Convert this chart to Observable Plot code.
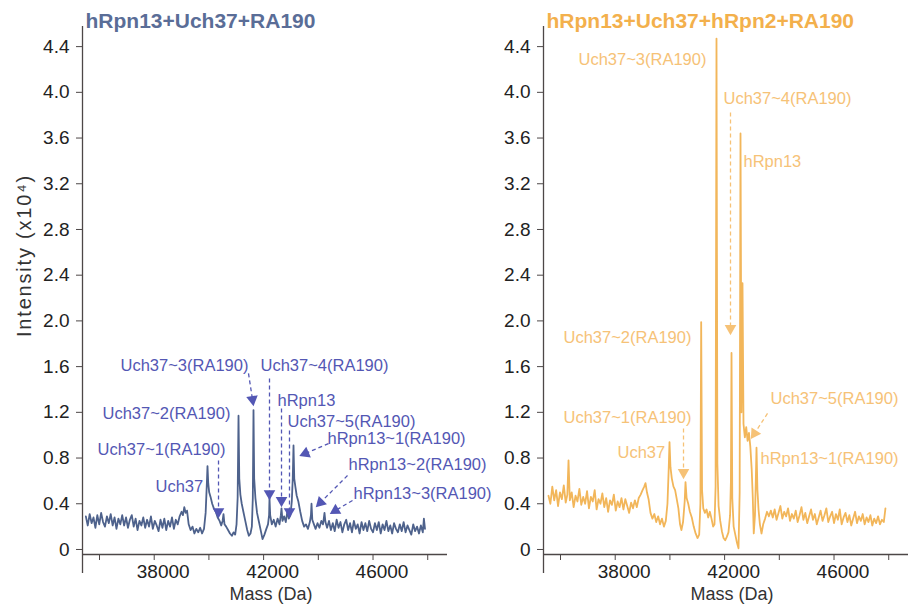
<!DOCTYPE html>
<html>
<head>
<meta charset="utf-8">
<script src="https://cdn.jsdelivr.net/npm/d3@7"></script>
<script src="https://cdn.jsdelivr.net/npm/@observablehq/plot@0.6"></script>
<style>
  html, body { margin: 0; padding: 0; background: #fff; }
  #wrap { position: relative; width: 909px; height: 611px; overflow: hidden; }
  #left, #right { position: absolute; top: 0; }
  #left { left: 0; z-index: 2; }
  #right { left: 461px; z-index: 1; }
</style>
</head>
<body>
<div id="wrap"><div id="left"></div><div id="right"></div></div>
<script>
// ---------- Data ----------
const titleLeft = "hRpn13+Uch37+RA190";
const titleRight = "hRpn13+Uch37+hRpn2+RA190";
const xLabel = "Mass (Da)";
const yLabel = "Intensity (x10\u2074)";

const yTicks = [0, 0.4, 0.8, 1.2, 1.6, 2.0, 2.4, 2.8, 3.2, 3.6, 4.0, 4.4];
const xTickMarks = [36000, 38000, 40000, 42000, 44000, 46000, 48000];
const xTickLabels = [38000, 42000, 46000];

// Left spectrum: hRpn13+Uch37+RA190
const massL = [
  35500,35570,35640,35710,35780,35850,35920,35990,36060,36130,
  36200,36270,36340,36410,36480,36550,36620,36690,36760,36830,
  36900,36970,37040,37110,37180,37250,37320,37390,37460,37530,
  37600,37670,37740,37810,37880,37950,38020,38090,38160,38230,
  38300,38370,38440,38510,38580,38650,38720,38790,38860,38930,
  39000,39050,39100,39150,39200,39260,39330,39400,39470,39540,
  39610,39680,39750,39820,39880,39920,39948,39975,40010,40060,
  40120,40180,40250,40320,40390,40450,40500,40533,40570,40630,
  40700,40770,40840,40900,40960,41010,41050,41082,41110,41150,
  41200,41260,41330,41400,41460,41520,41570,41605,41630,41655,
  41700,41760,41830,41900,41960,42030,42100,42160,42200,42215,
  42240,42300,42370,42440,42510,42580,42630,42654,42690,42750,
  42810,42873,42920,42980,43030,43065,43093,43120,43160,43210,
  43270,43340,43410,43480,43550,43620,43690,43730,43751,43780,
  43840,43900,43970,44040,44110,44170,44200,44226,44260,44320,
  44390,44460,44530,44600,44670,44740,44810,44880,44950,45020,
  45090,45160,45230,45300,45370,45440,45510,45580,45650,45720,
  45790,45860,45930,46000,46070,46140,46210,46280,46350,46420,
  46490,46560,46630,46700,46770,46840,46910,46980,47050,47120,
  47190,47260,47330,47400,47470,47540,47610,47680,47750,47820,
  47860,47900
];
const intL = [
  0.29,0.21,0.31,0.23,0.28,0.19,0.30,0.22,0.32,0.24,
  0.20,0.29,0.23,0.31,0.21,0.28,0.18,0.27,0.22,0.30,
  0.21,0.28,0.19,0.26,0.30,0.20,0.27,0.17,0.25,0.21,
  0.28,0.19,0.26,0.20,0.29,0.18,0.25,0.21,0.16,0.26,
  0.19,0.27,0.17,0.25,0.20,0.28,0.18,0.26,0.22,0.29,
  0.33,0.30,0.37,0.32,0.34,0.22,0.17,0.20,0.14,0.18,
  0.15,0.19,0.14,0.18,0.32,0.55,0.73,0.58,0.50,0.46,
  0.40,0.36,0.33,0.28,0.25,0.21,0.25,0.31,0.22,0.20,
  0.17,0.14,0.12,0.15,0.13,0.22,0.45,1.17,0.62,0.48,
  0.40,0.33,0.25,0.17,0.12,0.14,0.20,0.45,1.22,0.62,
  0.45,0.32,0.24,0.16,0.09,0.13,0.18,0.22,0.30,0.45,
  0.30,0.22,0.26,0.20,0.27,0.22,0.30,0.36,0.25,0.29,
  0.24,0.34,0.27,0.30,0.42,0.62,0.91,0.62,0.55,0.47,
  0.42,0.33,0.25,0.20,0.22,0.18,0.24,0.30,0.40,0.26,
  0.22,0.18,0.23,0.19,0.25,0.22,0.27,0.32,0.24,0.19,
  0.25,0.17,0.23,0.16,0.26,0.19,0.24,0.15,0.22,0.26,
  0.17,0.23,0.15,0.25,0.18,0.22,0.14,0.24,0.17,0.23,
  0.16,0.25,0.18,0.15,0.23,0.17,0.24,0.14,0.22,0.17,
  0.25,0.16,0.21,0.14,0.23,0.18,0.15,0.22,0.16,0.24,
  0.15,0.21,0.17,0.13,0.22,0.16,0.20,0.14,0.21,0.15,
  0.27,0.18
];

// Right spectrum: hRpn13+Uch37+hRpn2+RA190
const massR = [
  35560,35630,35700,35770,35840,35910,35980,36050,36120,36190,
  36250,36293,36340,36410,36480,36550,36620,36690,36760,36830,
  36900,36970,37040,37110,37180,37250,37320,37390,37460,37530,
  37600,37670,37740,37810,37880,37950,38020,38090,38160,38230,
  38300,38370,38440,38510,38580,38650,38720,38790,38860,38930,
  39000,39060,39108,39160,39220,39290,39360,39430,39500,39570,
  39640,39710,39780,39850,39910,39955,39985,40020,40070,40130,
  40190,40250,40310,40370,40420,40480,40540,40570,40610,40670,
  40730,40800,40870,40940,41010,41070,41115,41143,41175,41220,
  41280,41340,41400,41460,41520,41580,41630,41670,41703,41735,
  41780,41840,41900,41960,42020,42080,42140,42200,42230,42252,
  42280,42330,42390,42450,42508,42550,42581,42615,42654,42690,
  42740,42790,42840,42890,42940,42990,43030,43065,43110,43140,
  43166,43200,43240,43290,43349,43410,43480,43550,43620,43690,
  43760,43830,43900,43970,44040,44110,44180,44250,44320,44390,
  44460,44530,44600,44670,44740,44810,44880,44950,45020,45090,
  45160,45230,45300,45370,45440,45510,45580,45650,45720,45790,
  45860,45930,46000,46070,46140,46210,46280,46350,46420,46490,
  46560,46630,46700,46770,46840,46910,46980,47050,47120,47190,
  47260,47330,47400,47470,47540,47610,47680,47750,47820,47880
];
const intR = [
  0.47,0.40,0.55,0.43,0.52,0.38,0.50,0.44,0.56,0.41,
  0.48,0.78,0.43,0.50,0.37,0.47,0.42,0.53,0.39,0.46,
  0.40,0.51,0.36,0.46,0.42,0.52,0.35,0.44,0.40,0.49,
  0.37,0.45,0.33,0.43,0.39,0.48,0.34,0.42,0.37,0.45,
  0.35,0.44,0.38,0.32,0.41,0.36,0.43,0.37,0.45,0.48,
  0.52,0.55,0.58,0.50,0.44,0.32,0.27,0.31,0.24,0.29,
  0.22,0.27,0.20,0.25,0.40,0.70,0.94,0.72,0.62,0.55,
  0.52,0.44,0.36,0.22,0.17,0.24,0.42,0.59,0.45,0.40,
  0.33,0.28,0.20,0.14,0.10,0.13,0.40,1.99,0.52,0.36,
  0.32,0.35,0.28,0.33,0.27,0.20,0.22,0.55,4.47,0.75,
  0.38,0.25,0.16,0.10,0.08,0.11,0.15,0.30,0.60,1.72,
  0.45,0.20,0.13,0.06,0.01,0.50,3.64,1.20,2.33,1.10,
  0.98,1.07,0.95,1.02,0.90,0.70,0.45,0.14,0.30,0.60,
  0.89,0.52,0.35,0.22,0.14,0.22,0.27,0.33,0.29,0.34,
  0.28,0.35,0.26,0.32,0.38,0.27,0.33,0.29,0.36,0.25,
  0.31,0.27,0.34,0.24,0.30,0.37,0.26,0.32,0.23,0.29,
  0.35,0.26,0.31,0.22,0.28,0.34,0.25,0.30,0.36,0.24,
  0.29,0.33,0.23,0.31,0.26,0.35,0.22,0.28,0.32,0.24,
  0.30,0.21,0.27,0.33,0.23,0.29,0.25,0.31,0.22,0.28,
  0.24,0.30,0.21,0.27,0.23,0.29,0.22,0.26,0.24,0.36
];

// Annotations (label start position in data space)
const labelsL = ["Uch37~3(RA190)","Uch37~4(RA190)","hRpn13","Uch37~5(RA190)","hRpn13~1(RA190)","hRpn13~2(RA190)","hRpn13~3(RA190)","Uch37~2(RA190)","Uch37~1(RA190)","Uch37"];
const labelMassL = [36768, 41886, 42508, 42873, 44336, 45103, 45286, 36110, 35927, 38047];
const labelIntL  = [1.61, 1.61, 1.30, 1.12, 0.97, 0.74, 0.49, 1.19, 0.87, 0.55];
// Arrows: start (x1,y1) -> head (x2,y2)
const arrowX1L = [41447, 42215, 42654, 42946, 40351, 44372, 45067, 45250];
const arrowY1L = [1.54, 1.496, 1.234, 1.041, 0.779, 0.927, 0.647, 0.429];
const arrowX2L = [41594, 42215, 42654, 42946, 40351, 43531, 44080, 44628];
const arrowY2L = [1.312, 0.490, 0.429, 0.332, 0.332, 0.840, 0.411, 0.341];

const labelsR = ["Uch37~3(RA190)","Uch37~4(RA190)","hRpn13","Uch37~2(RA190)","Uch37~1(RA190)","Uch37","Uch37~5(RA190)","hRpn13~1(RA190)"];
const labelMassR = [36658, 41959, 42690, 36110, 36110, 38084, 43678, 43312];
const labelIntR  = [4.287, 3.946, 3.395, 1.855, 1.155, 0.849, 1.321, 0.796];
const arrowX1R = [42215, 40497, 43568];
const arrowY1R = [3.823, 1.059, 1.190];
const arrowX2R = [42215, 40497, 43093];
const arrowY2R = [1.934, 0.674, 1.015];

// ---------- Layout ----------
const xDomain = [35378, 48723];
const yDomain = [-0.044, 4.576];
const yAxisLow = -0.21;
const FONT = "'Liberation Sans', Arial, Helvetica, sans-serif";
const AXIS = "#4d4747";
const H = 611, MT = 26, MB = 57, ML = 82;

function panel({width, marginRight, mass, inten, lineColor, title, titleColor, annColor, labels, lmass, lint, ax1, ay1, ax2, ay2, showYLabel}) {
  const sx = Plot.scale({x: {domain: xDomain, range: [ML, width - marginRight]}});
  const sy = Plot.scale({y: {domain: yDomain, range: [H - MB, MT]}});
  const rot = ax1.map((_, i) => {
    const a = Math.atan2(sy.apply(ay2[i]) - sy.apply(ay1[i]), sx.apply(ax2[i]) - sx.apply(ax1[i])) * 180 / Math.PI;
    return a + 90;
  });
  const idxA = ax1.map((_, i) => i);
  const idxL = labels.map((_, i) => i);
  const marks = [
    Plot.ruleY([yDomain[0]], {stroke: AXIS, strokeWidth: 1.3}),
    Plot.ruleX([xDomain[0]], {y1: yAxisLow, y2: yDomain[1], stroke: AXIS, strokeWidth: 1.3}),
    Plot.axisY(yTicks, {tickSize: 6, tickPadding: 7, stroke: AXIS, fill: "#222", fontSize: 19,
      tickFormat: d => d === 0 ? "0" : d.toFixed(1), label: null}),
    Plot.axisX(xTickMarks, {tickSize: 6, stroke: AXIS, tickFormat: () => "", label: null}),
    Plot.axisX(xTickLabels, {tickSize: 0, tickPadding: 10, dx: 9, fill: "#222", fontSize: 19, tickFormat: d => String(d), label: null}),
    Plot.text([xLabel], {frameAnchor: "bottom", dy: 45, dx: 6, fill: "#333", fontSize: 18}),
    Plot.text([title], {frameAnchor: "top-left", textAnchor: "start", lineAnchor: "bottom", dx: 3, dy: 1, fill: titleColor, fontSize: 21, fontWeight: "bold"}),
    Plot.line(inten, {x: mass, y: inten, stroke: lineColor, strokeWidth: 1.8, strokeLinejoin: "round"}),
    Plot.link(idxA, {x1: i => ax1[i], y1: i => ay1[i], x2: i => ax2[i], y2: i => ay2[i], stroke: annColor, strokeWidth: 1.3, strokeDasharray: "4,3"}),
    Plot.dot(idxA, {x: i => ax2[i], y: i => ay2[i], symbol: "triangle", r: 4.3, fill: annColor, stroke: "none", rotate: i => rot[i]}),
    Plot.text(idxL, {x: i => lmass[i], y: i => lint[i], text: i => labels[i], textAnchor: "start", fill: annColor, fontSize: 16.5})
  ];
  if (showYLabel) {
    marks.push(Plot.text([yLabel], {frameAnchor: "left", textAnchor: "middle", lineAnchor: "middle", rotate: -90, dx: -58, dy: -35, fill: "#333", fontSize: 20}));
  }
  const svg = Plot.plot({
    width, height: H,
    marginLeft: ML, marginRight, marginTop: MT, marginBottom: MB,
    style: {fontFamily: FONT, background: "transparent", overflow: "visible", color: "#222"},
    x: {domain: xDomain, axis: null},
    y: {domain: yDomain, axis: null},
    marks
  });
  d3.select(svg).selectAll("text").filter(function() { return this.textContent === yLabel; })
    .attr("letter-spacing", "1.8px");
  return svg;
}

document.getElementById("left").appendChild(panel({
  width: 505, marginRight: 58, mass: massL, inten: intL, lineColor: "#4e628c",
  title: titleLeft, titleColor: "#5a6d97", annColor: "#5357b4",
  labels: labelsL, lmass: labelMassL, lint: labelIntL,
  ax1: arrowX1L, ay1: arrowY1L, ax2: arrowX2L, ay2: arrowY2L, showYLabel: true
}));
document.getElementById("right").appendChild(panel({
  width: 448, marginRight: 1, mass: massR, inten: intR, lineColor: "#f2b65a",
  title: titleRight, titleColor: "#f3b04c", annColor: "#f6c277",
  labels: labelsR, lmass: labelMassR, lint: labelIntR,
  ax1: arrowX1R, ay1: arrowY1R, ax2: arrowX2R, ay2: arrowY2R, showYLabel: false
}));
</script>
</body>
</html>
